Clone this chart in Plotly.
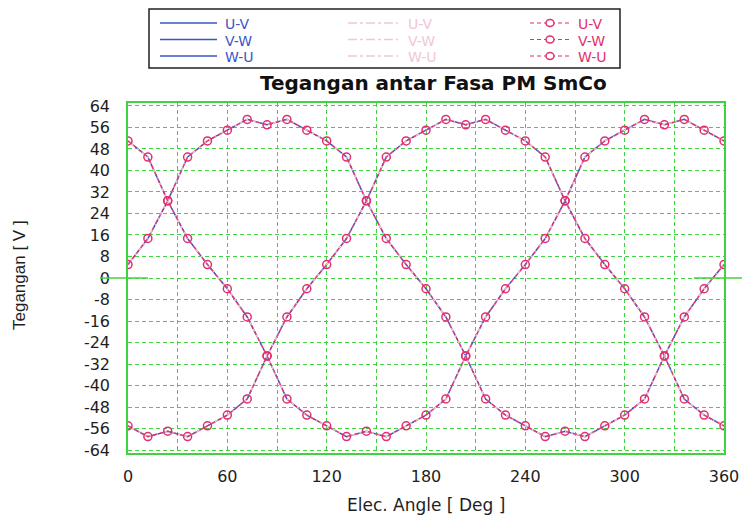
import plotly.graph_objects as go

# Electrical angle in degrees, sampled every 12 degrees
angle = [0, 12, 24, 36, 48, 60, 72, 84, 96, 108, 120, 132, 144, 156, 168, 180,
         192, 204, 216, 228, 240, 252, 264, 276, 288, 300, 312, 324, 336, 348, 360]

# Line-to-line voltages [V]
uv = [51, 45, 28.7, 14.7, 5, -4, -14.5, -29, -45, -51, -55, -59, -57, -59, -55, -51,
      -45, -29, -14.5, -4, 5, 14.7, 28.7, 45, 51, 55, 59, 57, 59, 55, 51]
vw = [5, 14.7, 28.7, 45, 51, 55, 59, 57, 59, 55, 51, 45, 28.7, 14.7, 5, -4,
      -14.5, -29, -45, -51, -55, -59, -57, -59, -55, -51, -45, -29, -14.5, -4, 5]
wu = [-55, -59, -57, -59, -55, -51, -45, -29, -14.5, -4, 5, 14.7, 28.7, 45, 51, 55,
      59, 57, 59, 55, 51, 45, 28.7, 14.7, 5, -4, -14.5, -29, -45, -51, -55]

series_names = ["U-V", "V-W", "W-U"]
series_values = [uv, vw, wu]

# Axis ticks: grid every 30 deg, labels every 60 deg; grid and labels every 8 V
x_ticks = [0, 30, 60, 90, 120, 150, 180, 210, 240, 270, 300, 330, 360]
x_labels = ["0", "", "60", "", "120", "", "180", "", "240", "", "300", "", "360"]
y_ticks = [-64, -56, -48, -40, -32, -24, -16, -8, 0, 8, 16, 24, 32, 40, 48, 56, 64]
y_labels = [str(v) for v in y_ticks]

BLUE = "#3a56c8"
PINK = "#f2c6d6"
RED = "#e2306c"
GREEN = "#3fd43f"
INK = "#1e1e1e"
WIDE = "DejaVu Sans, Verdana, sans-serif"
PLAIN = "Liberation Sans, Arial, sans-serif"

W, H = 742, 518
L, R, T, B = 128, 18, 103, 65
ROW_STEP = 16.5            # legend row pitch in px
LEG_BASE = ROW_STEP / 1.3  # base size giving that pitch for multi-line text
LEG_SIZE = 14              # rendered size of the legend labels


def px(xp):
    return (xp - L) / (W - L - R)


def py(yp):
    return (H - B - yp) / (H - T - B)


fig = go.Figure()

for name, vals in zip(series_names, series_values):
    fig.add_trace(go.Scatter(x=angle, y=vals, mode="lines", name=name,
                             line=dict(color=BLUE, width=1.5)))
for name, vals in zip(series_names, series_values):
    fig.add_trace(go.Scatter(x=angle, y=vals, mode="lines", name=name,
                             line=dict(color=PINK, width=1.5, dash="dashdot")))
for name, vals in zip(series_names, series_values):
    fig.add_trace(go.Scatter(x=angle, y=vals, mode="lines+markers", name=name,
                             line=dict(color=RED, width=1.2, dash="4px,3px"),
                             marker=dict(symbol="circle-open", size=8,
                                         color=RED, line=dict(width=1.5))))

shapes = []
annotations = []

# Solid zero line stubs that run past the frame on both sides
shapes.append(dict(type="line", xref="paper", yref="y", x0=px(100), x1=px(148),
                   y0=0, y1=0, line=dict(color=GREEN, width=1.5)))
shapes.append(dict(type="line", xref="paper", yref="y", x0=px(694), x1=px(742),
                   y0=0, y1=0, line=dict(color=GREEN, width=1.5)))

# Legend box with three styled columns
LEG_TOP, LEG_BOT = 9, 68
mid = 39.5
rows = [mid - ROW_STEP, mid, mid + ROW_STEP]
shapes.append(dict(type="rect", xref="paper", yref="paper",
                   x0=px(149), x1=px(620), y0=py(LEG_TOP), y1=py(LEG_BOT),
                   line=dict(color="#202020", width=1.5)))
for r in rows:
    yy = py(r)
    shapes.append(dict(type="line", xref="paper", yref="paper",
                       x0=px(160), x1=px(217), y0=yy, y1=yy,
                       line=dict(color=BLUE, width=1.5)))
    shapes.append(dict(type="line", xref="paper", yref="paper",
                       x0=px(348), x1=px(398), y0=yy, y1=yy,
                       line=dict(color=PINK, width=1.5, dash="dashdot")))
    shapes.append(dict(type="line", xref="paper", yref="paper",
                       x0=px(530), x1=px(570), y0=yy, y1=yy,
                       line=dict(color=RED, width=1.2, dash="4px,3px")))
    shapes.append(dict(type="circle", xref="paper", yref="paper",
                       xsizemode="pixel", ysizemode="pixel",
                       xanchor=px(550), yanchor=yy, x0=-4, x1=4, y0=-3.5, y1=3.5,
                       fillcolor="white", line=dict(color=RED, width=1.5)))

legend_text = "<br>".join(
    '<span style="font-size:%dpx">%s</span>' % (LEG_SIZE, n) for n in series_names)
for xpos, color in [(223, BLUE), (406, PINK), (576, RED)]:
    annotations.append(dict(text=legend_text, xref="paper", yref="paper",
                            x=px(xpos), y=py(mid + 0.5), xanchor="left",
                            yanchor="middle", align="left", showarrow=False,
                            font=dict(family=WIDE, size=LEG_BASE, color=color)))

# Title and axis titles
annotations.append(dict(text="<b>Tegangan antar Fasa PM SmCo</b>", xref="paper",
                        yref="paper", x=px(433), y=py(83), xanchor="center",
                        yanchor="middle", showarrow=False,
                        font=dict(family=WIDE, size=20, color="#111111")))
annotations.append(dict(text="Elec. Angle [ Deg ]", xref="paper", yref="paper",
                        x=0.5, y=py(505), xanchor="center", yanchor="middle",
                        showarrow=False, font=dict(family=WIDE, size=17, color=INK)))
annotations.append(dict(text="Tegangan [ V ]", xref="paper", yref="paper",
                        x=px(19), y=py(275), xanchor="center", yanchor="middle",
                        textangle=-90, showarrow=False,
                        font=dict(family=PLAIN, size=17, color=INK)))

fig.update_layout(
    width=W, height=H,
    margin=dict(l=L, r=R, t=T, b=B, autoexpand=False),
    paper_bgcolor="white", plot_bgcolor="white",
    showlegend=False,
    shapes=shapes, annotations=annotations,
    font=dict(family=WIDE, size=16, color=INK),
)
fig.update_xaxes(range=[0, 360], tickmode="array", tickvals=x_ticks, ticktext=x_labels,
                 automargin=False,
                 showgrid=True, gridcolor=GREEN, griddash="4px,3px", gridwidth=1,
                 showline=True, linecolor=GREEN, linewidth=1.5, mirror=True,
                 zeroline=False, ticks="", ticklabelstandoff=8,
                 tickfont=dict(family=WIDE, size=16, color=INK))
fig.update_yaxes(range=[-65.1, 65.1], tickmode="array", tickvals=y_ticks,
                 ticktext=y_labels, automargin=False,
                 showgrid=True, gridcolor=GREEN, griddash="4px,3px", gridwidth=1,
                 showline=True, linecolor=GREEN, linewidth=1.5, mirror=True,
                 zeroline=False, ticks="", ticklabelstandoff=13,
                 tickfont=dict(family=WIDE, size=16, color=INK))

fig.write_html("out.html")
